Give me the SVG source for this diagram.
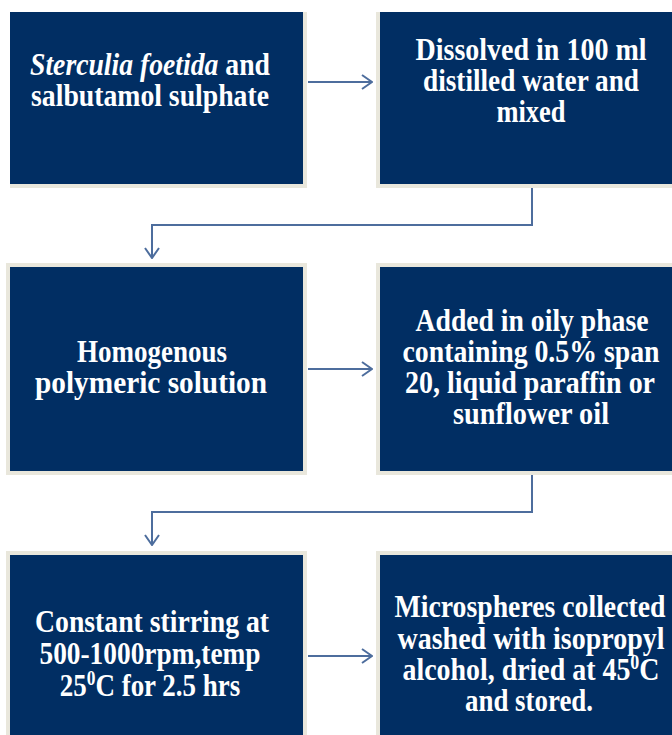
<svg xmlns="http://www.w3.org/2000/svg" width="672" height="735" viewBox="0 0 672 735">
<defs>
<style>
.frame{fill:#e9e7dc}
.box{fill:#012e63}
.t{font-family:"Liberation Serif","Times New Roman",serif;font-weight:bold;font-size:31px;fill:#ffffff;text-anchor:middle}
.sup{font-size:20px}
.conn{fill:none;stroke:#4d6d9d;stroke-width:2}
</style>
<marker id="chev" viewBox="0 0 12 16" refX="11" refY="8" markerWidth="12" markerHeight="16" markerUnits="userSpaceOnUse" orient="auto">
<path d="M1,1 L11,8 L1,15" fill="none" stroke="#4d6d9d" stroke-width="2"/>
</marker>
</defs>
<rect width="672" height="735" fill="#ffffff"/>

<g id="node1">
<rect class="frame" x="10" y="12" width="297" height="176"/>
<rect class="box" x="10" y="12" width="293" height="172"/>
<text class="t" transform="translate(150,75) scale(0.9,1)" textLength="266.7" lengthAdjust="spacingAndGlyphs"><tspan font-style="italic">Sterculia foetida</tspan> and</text>
<text class="t" transform="translate(150,106) scale(0.9,1)" textLength="264.4" lengthAdjust="spacingAndGlyphs">salbutamol sulphate</text>
</g>

<g id="node2">
<rect class="frame" x="376" y="12" width="296" height="176"/>
<rect class="box" x="380" y="12" width="292" height="172"/>
<text class="t" transform="translate(531,60) scale(0.9,1)" textLength="256.7" lengthAdjust="spacingAndGlyphs">Dissolved in 100 ml</text>
<text class="t" transform="translate(531,91) scale(0.9,1)" textLength="240" lengthAdjust="spacingAndGlyphs">distilled water and</text>
<text class="t" transform="translate(531,122) scale(0.9,1)" textLength="76.7" lengthAdjust="spacingAndGlyphs">mixed</text>
</g>

<g id="node3">
<rect class="frame" x="6" y="263" width="301" height="212"/>
<rect class="box" x="10" y="267" width="293" height="204"/>
<text class="t" transform="translate(152,362) scale(0.9,1)" textLength="166.7" lengthAdjust="spacingAndGlyphs">Homogenous</text>
<text class="t" transform="translate(151,393) scale(0.9,1)" textLength="257.8" lengthAdjust="spacingAndGlyphs">polymeric  solution</text>
</g>

<g id="node4">
<rect class="frame" x="376" y="263" width="296" height="212"/>
<rect class="box" x="380" y="267" width="292" height="204"/>
<text class="t" transform="translate(532,331) scale(0.9,1)" textLength="258.9" lengthAdjust="spacingAndGlyphs">Added in oily phase</text>
<text class="t" transform="translate(531,362) scale(0.9,1)" textLength="285.6" lengthAdjust="spacingAndGlyphs">containing 0.5% span</text>
<text class="t" transform="translate(530,393) scale(0.9,1)" textLength="277.8" lengthAdjust="spacingAndGlyphs">20, liquid paraffin or</text>
<text class="t" transform="translate(531,424) scale(0.9,1)" textLength="173.3" lengthAdjust="spacingAndGlyphs">sunflower oil</text>
</g>

<g id="node5">
<rect class="frame" x="6" y="551" width="301" height="184"/>
<rect class="box" x="10" y="555" width="293" height="180"/>
<text class="t" transform="translate(152,632) scale(0.9,1)" textLength="260" lengthAdjust="spacingAndGlyphs">Constant stirring   at</text>
<text class="t" transform="translate(150,664) scale(0.9,1)" textLength="245.6" lengthAdjust="spacingAndGlyphs">500-1000rpm,temp</text>
<text class="t" transform="translate(150,696) scale(0.87,1)">25<tspan class="sup" dy="-11">0</tspan><tspan dy="11">C for 2.5 hrs</tspan></text>
</g>

<g id="node6">
<rect class="frame" x="376" y="551" width="296" height="184"/>
<rect class="box" x="380" y="555" width="292" height="180"/>
<text class="t" transform="translate(530,617) scale(0.9,1)" textLength="301.1" lengthAdjust="spacingAndGlyphs">Microspheres collected</text>
<text class="t" transform="translate(531,649) scale(0.9,1)" textLength="296.7" lengthAdjust="spacingAndGlyphs">washed with isopropyl</text>
<text class="t" transform="translate(531,680) scale(0.9,1)">alcohol, dried at 45<tspan class="sup" dy="-11">0</tspan><tspan dy="11">C</tspan></text>
<text class="t" transform="translate(529,711) scale(0.9,1)" textLength="142.2" lengthAdjust="spacingAndGlyphs">and stored.</text>
</g>

<g id="connectors">
<path class="conn" d="M308,82 H372" marker-end="url(#chev)"/>
<path class="conn" d="M532,188 V225 H152 V258" marker-end="url(#chev)"/>
<path class="conn" d="M308,369 H372" marker-end="url(#chev)"/>
<path class="conn" d="M532,475 V512 H152 V545" marker-end="url(#chev)"/>
<path class="conn" d="M308,656 H372" marker-end="url(#chev)"/>
</g>
</svg>
